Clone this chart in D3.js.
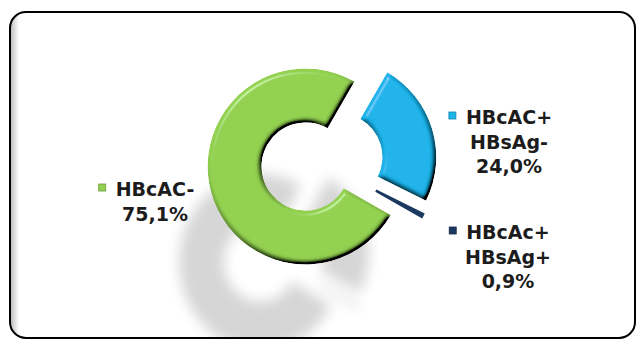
<!DOCTYPE html>
<html>
<head>
<meta charset="utf-8">
<script src="https://cdn.jsdelivr.net/npm/d3@7"></script>
<style>
  html, body { margin: 0; padding: 0; background: #fff; }
  svg { display: block; }
  text { font-family: "DejaVu Sans", "Liberation Sans", sans-serif; font-weight: bold; fill: #1c1c1c; }
</style>
</head>
<body>
<svg id="chart" width="638" height="340"></svg>
<script>
// Hepatitis B serology breakdown (percent of patients)
const categories = ["HBcAC+ HBsAg-", "HBcAc+ HBsAg+", "HBcAC-"];
const values = [24.0, 0.9, 75.1];
const valueLabels = ["24,0%", "0,9%", "75,1%"];
const labelLines = [["HBcAC+", "HBsAg-"], ["HBcAc+", "HBsAg+"], ["HBcAC-"]];
const colors = ["#1bb4ea", "#1b3860", "#92d050"];

const cx = 322, cy = 162;
const outerR = 98, innerR = 44, explodeDist = 17;
const firstAngle = 30 * Math.PI / 180;

const svg = d3.select("#chart");
const defs = svg.append("defs");

// soft bevel for the ring segments
const bevel = defs.append("filter").attr("id", "bevel")
  .attr("x", "-10%").attr("y", "-10%").attr("width", "120%").attr("height", "120%");
bevel.append("feGaussianBlur").attr("in", "SourceAlpha").attr("stdDeviation", 2.8).attr("result", "blur");
const elev = 50;
const diff = bevel.append("feDiffuseLighting").attr("in", "blur").attr("surfaceScale", 6)
  .attr("diffuseConstant", 1 / Math.sin(elev * Math.PI / 180)).attr("lighting-color", "#ffffff").attr("result", "diff");
diff.append("feDistantLight").attr("azimuth", 235).attr("elevation", elev);
bevel.append("feComposite").attr("in", "SourceGraphic").attr("in2", "diff")
  .attr("operator", "arithmetic").attr("k1", 1).attr("result", "shaded");
const spec = bevel.append("feSpecularLighting").attr("in", "blur").attr("surfaceScale", 6)
  .attr("specularConstant", 0.3).attr("specularExponent", 30).attr("lighting-color", "#ffffff").attr("result", "spec");
spec.append("feDistantLight").attr("azimuth", 235).attr("elevation", 28);
bevel.append("feComposite").attr("in", "spec").attr("in2", "SourceAlpha").attr("operator", "in").attr("result", "specIn");
bevel.append("feComposite").attr("in", "shaded").attr("in2", "specIn")
  .attr("operator", "arithmetic").attr("k2", 1).attr("k3", 1).attr("result", "lit");
bevel.append("feComposite").attr("in", "lit").attr("in2", "SourceAlpha").attr("operator", "in");

// blurred cast shadow
defs.append("filter").attr("id", "shadowBlur")
  .attr("x", "-30%").attr("y", "-30%").attr("width", "160%").attr("height", "160%")
  .append("feGaussianBlur").attr("stdDeviation", 6.5);

// inner shade along the frame's left edge
const edgeGrad = defs.append("linearGradient").attr("id", "edgeGrad").attr("x1", 0).attr("x2", 1).attr("y1", 0).attr("y2", 0);
edgeGrad.append("stop").attr("offset", 0).attr("stop-color", "#000").attr("stop-opacity", 0.28);
edgeGrad.append("stop").attr("offset", 1).attr("stop-color", "#000").attr("stop-opacity", 0);

const frame = { x: 10, y: 12, w: 625, h: 326, r: 16 };
defs.append("clipPath").attr("id", "frameClip").append("rect")
  .attr("x", frame.x).attr("y", frame.y).attr("width", frame.w).attr("height", frame.h).attr("rx", frame.r);

svg.append("rect").attr("x", frame.x).attr("y", frame.y).attr("width", frame.w).attr("height", frame.h)
  .attr("rx", frame.r).attr("fill", "#fff");
svg.append("rect").attr("clip-path", "url(#frameClip)")
  .attr("x", frame.x).attr("y", frame.y).attr("width", 9).attr("height", frame.h)
  .attr("fill", "url(#edgeGrad)");

// pie layout, every segment pulled out along its mid-angle
const pie = d3.pie().sort(null).value(d => d)
  .startAngle(firstAngle).endAngle(firstAngle + 2 * Math.PI);
const arcs = pie(values);
const arc = d3.arc().innerRadius(innerR).outerRadius(outerR);

function offset(d) {
  const a = (d.startAngle + d.endAngle) / 2;
  return [Math.sin(a) * explodeDist, -Math.cos(a) * explodeDist];
}

// squashed shadow of the ring, cast down and to the left
const shadow = svg.append("g").attr("clip-path", "url(#frameClip)")
  .append("g").attr("filter", "url(#shadowBlur)").attr("opacity", 0.16)
  .append("g").attr("transform", `translate(274,258) scale(0.83,0.9)`);
shadow.selectAll("path").data(arcs).join("path")
  .attr("transform", d => `translate(${offset(d)})`)
  .attr("d", arc).attr("fill", "#000");

// ring segments
const ring = svg.append("g").attr("transform", `translate(${cx},${cy})`);
ring.selectAll("path").data(arcs).join("path")
  .attr("transform", d => `translate(${offset(d)})`)
  .attr("d", arc)
  .attr("fill", (d, i) => colors[i])
  .attr("filter", (d, i) => values[i] < 2 ? null : "url(#bevel)");

// labels: marker + name lines, then the value
const labelPos = [
  { x: 509, y: 124 },
  { x: 508, y: 239 },
  { x: 155, y: 196 }
];
const lineH = 24.5;
labelPos.forEach((p, i) => {
  const g = svg.append("g");
  const lines = labelLines[i];
  lines.forEach((ln, j) => {
    const t = g.append("text").attr("x", p.x).attr("y", p.y + j * lineH)
      .attr("text-anchor", "middle").attr("font-size", 19).text(ln);
    if (j === 0) {
      const bb = t.node().getBBox();
      g.append("rect").attr("x", bb.x - 17).attr("y", p.y - 12).attr("width", 7).attr("height", 7)
        .attr("fill", colors[i]).attr("stroke", d3.color(colors[i]).darker(0.8)).attr("stroke-width", 0.8);
    }
  });
  g.append("text").attr("x", p.x).attr("y", p.y + lines.length * lineH)
    .attr("text-anchor", "middle").attr("font-size", 19).text(valueLabels[i]);
});

// frame border
svg.append("rect").attr("x", frame.x).attr("y", frame.y).attr("width", frame.w).attr("height", frame.h)
  .attr("rx", frame.r).attr("fill", "none").attr("stroke", "#000").attr("stroke-width", 2);
</script>
</body>
</html>
